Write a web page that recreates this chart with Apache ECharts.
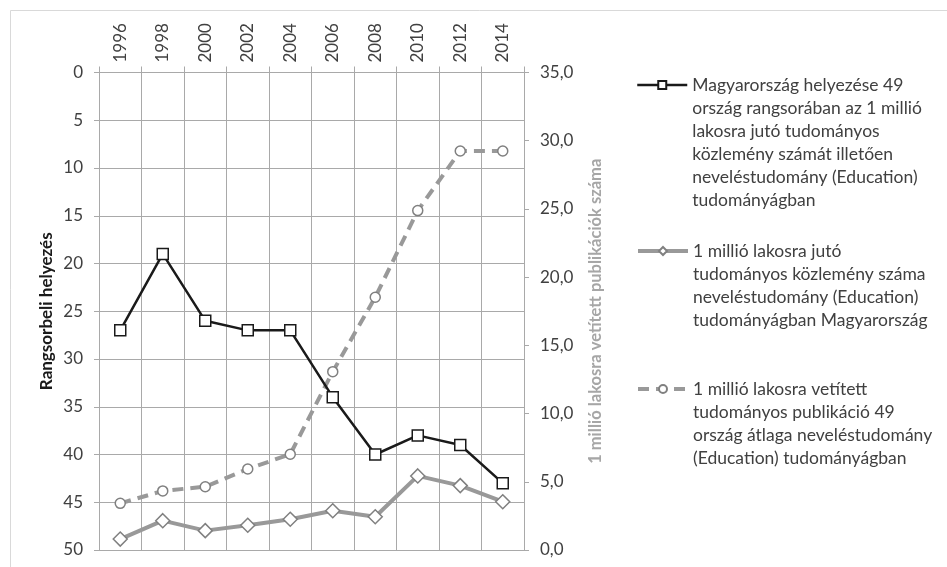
<!DOCTYPE html>
<html>
<head>
<meta charset="utf-8">
<script src="https://cdn.jsdelivr.net/npm/echarts@6/dist/echarts.min.js"></script>
<style>html,body{margin:0;padding:0;background:#fff}#c{width:947px;height:567px}</style>
</head>
<body>
<div id="c"></div>
<script>
const years = ['1996','1998','2000','2002','2004','2006','2008','2010','2012','2014'];
const rankHU = [27, 19, 26, 27, 27, 34, 40, 38, 39, 43];
const pubHU = [0.8, 2.15, 1.42, 1.81, 2.25, 2.88, 2.44, 5.43, 4.72, 3.54];
const pubAvg = [3.42, 4.33, 4.64, 5.94, 7.02, 13.07, 18.53, 24.88, 29.25, 29.25];
const leftTicks = [0, 5, 10, 15, 20, 25, 30, 35, 40, 45, 50];
const rightTicks = [0, 5, 10, 15, 20, 25, 30, 35];

const name1 = 'Magyarország helyezése 49 ország rangsorában az 1 millió lakosra jutó tudományos közlemény számát illetően neveléstudomány (Education) tudományágban';
const name2 = '1 millió lakosra jutó tudományos közlemény száma neveléstudomány (Education) tudományágban Magyarország';
const name3 = '1 millió lakosra vetített tudományos publikáció 49 ország átlaga neveléstudomány (Education) tudományágban';
const lines1 = ['Magyarország helyezése 49','ország rangsorában az 1 millió','lakosra jutó tudományos','közlemény számát illetően','neveléstudomány (Education)','tudományágban'];
const lines2 = ['1 millió lakosra jutó','tudományos közlemény száma','neveléstudomány (Education)','tudományágban Magyarország'];
const lines3 = ['1 millió lakosra vetített','tudományos publikáció 49','ország átlaga neveléstudomány','(Education) tudományágban'];
function padLines(arr){ return new Array(arr.length - 1).fill('').concat(arr).join('\n'); }

const FONT = 'Lato';
const LH = 23;
const gridColor = '#a9a9a9';
const textColor = '#404040';

function legendAt(name, lines, firstLineY){
  const top = firstLineY - ((lines.length - 1) * LH + LH / 2);
  return {
    data: [name], left: 636, top: top, orient: 'vertical', padding: 0,
    itemWidth: 50, itemHeight: 10, selectedMode: false,
    lineStyle: {width: 'inherit', type: 'inherit'},
    formatter: () => padLines(lines),
    textStyle: {fontFamily: FONT, fontSize: 17.5, color: textColor, lineHeight: LH}
  };
}

const chart = echarts.init(document.getElementById('c'), null, {renderer: 'canvas'});
chart.setOption({
  animation: false,
  backgroundColor: '#fff',
  graphic: [{type: 'rect', shape: {x: 10.5, y: 10.5, width: 1200, height: 1200}, style: {fill: 'none', stroke: '#d9d9d9', lineWidth: 1}, silent: true}],
  grid: {left: 99, right: 423, top: 72.5, bottom: 17, containLabel: false},
  legend: [legendAt(name1, lines1, 85), legendAt(name2, lines2, 251), legendAt(name3, lines3, 389)],
  xAxis: {
    type: 'category', data: years, position: 'top', boundaryGap: true,
    axisLine: {show: true, lineStyle: {color: gridColor, width: 1}},
    axisTick: {show: true, length: 6, lineStyle: {color: gridColor}},
    axisLabel: {rotate: 90, margin: 10, fontFamily: FONT, fontSize: 17, color: textColor},
    splitLine: {show: true, lineStyle: {color: gridColor, width: 1}}
  },
  yAxis: [{
    type: 'value', inverse: true, min: 0, max: 50, interval: 5, position: 'left',
    name: 'Rangsorbeli helyezés', nameLocation: 'middle', nameGap: 44, nameRotate: 90,
    nameTextStyle: {fontFamily: FONT, fontSize: 17, fontWeight: 'bold', color: '#1a1a1a'},
    axisLine: {show: true, lineStyle: {color: gridColor}},
    axisTick: {show: true, inside: false, length: 5, lineStyle: {color: gridColor}},
    axisLabel: {margin: 16, fontFamily: FONT, fontSize: 17, color: textColor,
      formatter: v => leftTicks.includes(v) ? String(v) : ''},
    splitLine: {show: true, lineStyle: {color: gridColor, width: 1}}
  }, {
    type: 'value', min: 0, max: 35, interval: 5, position: 'right',
    name: '1 millió lakosra vetített publikációk száma', nameLocation: 'middle', nameGap: 63, nameRotate: 90,
    nameTextStyle: {fontFamily: FONT, fontSize: 16.5, fontWeight: 'bold', color: '#a6a6a6'},
    axisLine: {show: true, lineStyle: {color: gridColor}},
    axisTick: {show: true, inside: false, length: 5, lineStyle: {color: gridColor}},
    axisLabel: {margin: 16, fontFamily: FONT, fontSize: 17, color: textColor,
      formatter: v => rightTicks.includes(v) ? v.toFixed(1).replace('.', ',') : ''},
    splitLine: {show: false}
  }],
  series: [{
    name: name3, type: 'line', yAxisIndex: 1, data: pubAvg,
    symbol: 'circle', symbolSize: 10, z: 2,
    lineStyle: {color: '#999999', width: 4, type: [11, 7]},
    itemStyle: {color: '#ffffff', borderColor: '#808080', borderWidth: 1.5}
  }, {
    name: name2, type: 'line', yAxisIndex: 1, data: pubHU,
    symbol: 'diamond', symbolSize: [14, 14], z: 3,
    lineStyle: {color: '#999999', width: 4},
    itemStyle: {color: '#ffffff', borderColor: '#808080', borderWidth: 1.5}
  }, {
    name: name1, type: 'line', yAxisIndex: 0, data: rankHU,
    symbol: 'rect', symbolSize: 11, z: 4,
    lineStyle: {color: '#1a1a1a', width: 2.5},
    itemStyle: {color: '#ffffff', borderColor: '#1a1a1a', borderWidth: 1.5}
  }]
});
</script>
</body>
</html>
